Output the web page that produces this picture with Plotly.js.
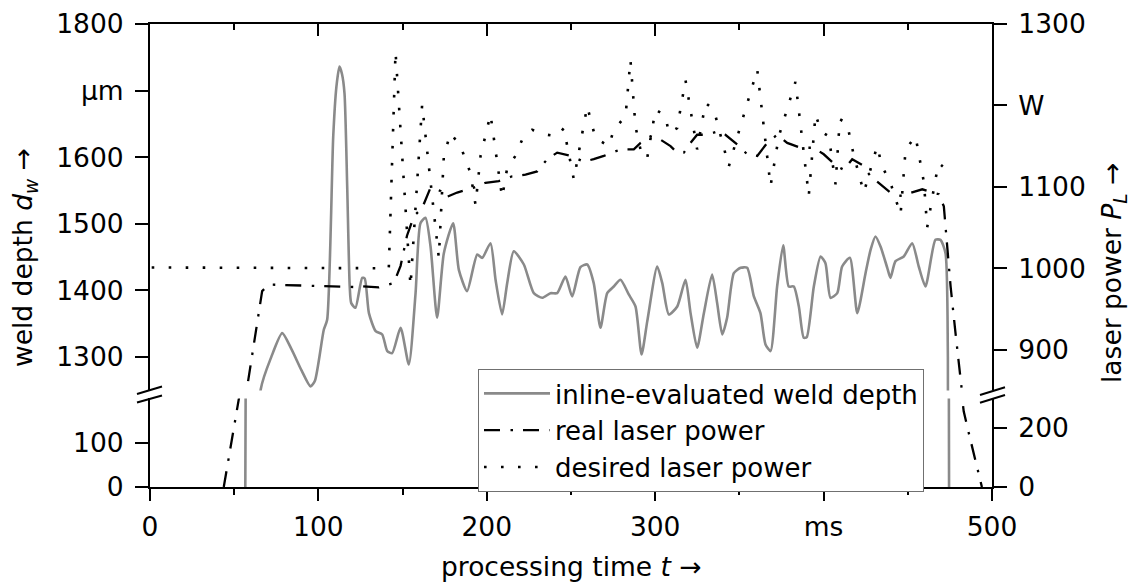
<!DOCTYPE html>
<html><head><meta charset="utf-8">
<script src="https://cdn.plot.ly/plotly-3.0.1.min.js"></script>
<style>html,body{margin:0;padding:0;background:#fff}</style>
</head><body><div id="chart" style="width:1132px;height:583px"></div>
<script>
// ---- data ----
const depthTime = [56.6,56.8,65.8,72,78.5,84,90,95.3,98,103.2,105.2,108.8,110.7,112.5,114,115.5,117.1,118.6,119.5,122,126,127.5,130,134,137.9,140.9,143.8,148.8,153.7,157.7,160.6,163.6,166.6,170.5,174.5,180,183.4,188.3,194.3,197.3,202.2,205.2,209.1,212.1,216,222,227.9,232.9,237.8,241.8,246.7,250.7,255.6,259.6,263.5,267.5,271.5,275.4,279.4,284.3,288.3,291.9,295.3,301.2,304.2,308.1,313.1,318,321,324.9,328.9,333.8,336.8,339.8,342.7,346.7,350.7,354.6,358.6,362.5,365.5,368.5,372.4,376,379.3,382.3,385.3,388.2,390,394.2,398.2,401.1,404.1,408.1,411,415.6,420,424.9,427.9,430.8,433.8,437.8,439.7,442.7,447.6,452.6,456.5,460.5,466.4,469.4,472.4,473.8,474.5];
const depthValue = [0,210,1252,1300,1336,1312,1280,1256,1265,1341,1356,1631,1706,1736,1725,1696,1556,1406,1381,1374,1419,1418,1366,1339,1334,1309,1306,1344,1289,1396,1501,1509,1466,1359,1456,1501,1431,1399,1454,1449,1471,1416,1364,1411,1459,1439,1396,1389,1396,1396,1421,1391,1435,1439,1411,1344,1396,1406,1416,1394,1376,1304,1354,1436,1411,1364,1376,1416,1366,1314,1366,1424,1381,1334,1359,1426,1434,1434,1391,1366,1319,1309,1406,1468,1406,1406,1376,1329,1330,1406,1451,1441,1389,1396,1436,1449,1366,1426,1461,1481,1466,1434,1419,1444,1451,1471,1436,1406,1476,1476,1456,1300,0];

const realTime = [43.8,52.8,57.4,66.6,70.5,90,110,121,125,135.9,144.8,148.8,152.6,156.7,161.6,166.6,172.5,175.5,182.4,192.3,199.2,207.1,215.1,223,229.9,235.9,241.8,249.7,257.6,263.5,269.5,279.4,287.3,291.3,297.2,303.1,309.1,313,317,321,324.9,330.9,336.8,341.7,348.7,354.6,360.6,366.5,372.4,378.4,386.3,394.2,400.1,408.1,412,417,422.9,427.9,433.8,439.7,445.7,451.6,458.6,464.5,468.4,471.4,472.4,473.4,475.4,478.3,481.3,482.1,482.3,483.2,486.2,490.2,494];
const realPower = [0,300,850,972,980,979,978,977,978,976.5,982,1003,1040,1064,1074,1099,1095,1087,1093,1099,1105,1107,1113,1115,1119,1134,1142,1138,1131,1134,1138,1146,1146,1154,1162,1158,1150,1142,1142,1154,1164,1164,1168,1164,1152,1140,1138,1154,1164,1154,1148,1148,1140,1125,1121,1134,1127,1113,1103,1093,1089,1093,1097,1093,1091,1076,1052,1019,978,921,868,850,300,256,183,92,0];

const desiredTime = [1,141.8,145.8,154.7,161.6,171.5,174.5,178.4,184.4,190.3,193.3,196.3,202.2,209.1,212.1,217,221,226.9,235.9,241.8,245.7,251.7,259.6,264.5,272.4,275.4,282.4,285.3,288.3,292.3,295.3,300.2,306.1,308.1,313,318,324.9,329.9,334.8,343.7,349.7,360.6,368.5,373.4,383.3,391.2,395.2,398.5,403.1,407.1,409.6,413.9,418,423.9,431.8,434.8,439.7,445.7,448.7,454.6,459.6,461.5,466.4,468.4,470.8];
const desiredPower = [1001,1000,1266,978,1201,1013,1138,1166,1150,1117,1078,1138,1189,1087,1123,1138,1158,1170,1164,1162,1172,1109,1199,1160,1150,1170,1187,1256,1174,1136,1136,1195,1187,1166,1172,1231,1146,1203,1195,1125,1168,1244,1101,1162,1229,1089,1189,1168,1162,1103,1183,1178,1138,1093,1150,1125,1105,1066,1146,1162,1105,1050,1109,1129,1125];

const seriesNames = ['inline-evaluated weld depth','real laser power','desired laser power'];

const xTickVals = [0,100,200,300,400,500];
const xTickText = ['0','100','200','300','ms','500'];
const xMinorVals = [50,150,250,350,450];
const depthUpperTicks = [1300,1400,1500,1600,1700,1800];
const depthUpperText = ['1300','1400','1500','1600','µm','1800'];
const depthLowerTicks = [0,100];
const depthLowerText = ['0','100'];
const powerUpperTicks = [900,1000,1100,1200,1300];
const powerUpperText = ['900','1000','1100','W','1300'];
const powerLowerTicks = [0,200];
const powerLowerText = ['0','200'];

// ---- styling ----
const W = 1132, H = 583, ML = 150, MR = 140, MT = 24, MB = 96;
const PW = W - ML - MR, PH = H - MT - MB;
const px2x = p => (p - ML) / PW;
const py2y = p => (H - MB - p) / PH;
const FS = 26.5;
const LFS = 26;
const gray = '#8a8a8a';
const realDash = '16px,10.5px,2.5px,10px';
const desiredDash = '2.6px,14.4px';
const graySmooth = 0.6;

const axBase = {showline:true, linecolor:'#000', linewidth:2, showgrid:false, zeroline:false,
  ticks:'outside', tickcolor:'#000', tickwidth:2, tickfont:{size:FS, color:'#000'}, tickmode:'array'};

const traces = [
  {x:depthTime, y:depthValue, xaxis:'x2', yaxis:'y', type:'scatter', mode:'lines', name:seriesNames[0],
   line:{color:gray, width:2.6, shape:'spline', smoothing:graySmooth}},
  {x:realTime, y:realPower, xaxis:'x2', yaxis:'y2', type:'scatter', mode:'lines', name:seriesNames[1],
   line:{color:'#000', width:2.3, dash:realDash}},
  {x:desiredTime, y:desiredPower, xaxis:'x2', yaxis:'y2', type:'scatter', mode:'lines', name:seriesNames[2],
   line:{color:'#000', width:2.6, dash:desiredDash}},
  {x:depthTime, y:depthValue, xaxis:'x', yaxis:'y3', type:'scatter', mode:'lines', showlegend:false,
   line:{color:gray, width:2.6}},
  {x:realTime, y:realPower, xaxis:'x', yaxis:'y4', type:'scatter', mode:'lines', showlegend:false,
   line:{color:'#000', width:2.3, dash:realDash}},
  {x:desiredTime, y:desiredPower, xaxis:'x', yaxis:'y4', type:'scatter', mode:'lines', showlegend:false,
   line:{color:'#000', width:2.6, dash:desiredDash}}
];

const upperBottom = 0.2086, lowerTop = 0.1914;

const breakLines = [
  [137,394,162,386.5],[137,402.5,162,395.5],
  [980,395,1005,387.3],[980,402.7,1005,395]
].map(s => ({type:'line', xref:'paper', yref:'paper', x0:px2x(s[0]), y0:py2y(s[1]), x1:px2x(s[2]), y1:py2y(s[3]),
  line:{color:'#000', width:2}}));

const layout = {
  width:W, height:H, margin:{l:ML, r:MR, t:MT, b:MB, pad:0},
  paper_bgcolor:'#fff', plot_bgcolor:'rgba(0,0,0,0)',
  font:{family:'DejaVu Sans', size:FS, color:'#000'},
  showlegend:true,
  xaxis:Object.assign({}, axBase, {domain:[0,1], range:[0,500], anchor:'y3', side:'bottom',
    tickvals:xTickVals, ticktext:xTickText, ticklen:12, ticklabelstandoff:3,
    minor:{tickvals:xMinorVals, ticks:'outside', ticklen:6, tickwidth:2, tickcolor:'#000'}}),
  xaxis2:Object.assign({}, axBase, {domain:[0,1], range:[0,500], anchor:'y', side:'top', matches:'x',
    tickvals:xTickVals, ticks:'inside', ticklen:12, showticklabels:false,
    minor:{tickvals:xMinorVals, ticks:'inside', ticklen:6, tickwidth:2, tickcolor:'#000'}}),
  yaxis:Object.assign({}, axBase, {domain:[upperBottom,1], range:[1250,1800], anchor:'x2', side:'left',
    tickvals:depthUpperTicks, ticktext:depthUpperText, ticklen:13, ticklabelstandoff:6}),
  yaxis2:Object.assign({}, axBase, {overlaying:'y', range:[850,1300], anchor:'x2', side:'right',
    tickvals:powerUpperTicks, ticktext:powerUpperText, ticklen:13, ticklabelstandoff:6}),
  yaxis3:Object.assign({}, axBase, {domain:[0,lowerTop], range:[0,200], anchor:'x', side:'left',
    tickvals:depthLowerTicks, ticktext:depthLowerText, ticklen:13, ticklabelstandoff:6}),
  yaxis4:Object.assign({}, axBase, {overlaying:'y3', range:[0,300], anchor:'x', side:'right',
    tickvals:powerLowerTicks, ticktext:powerLowerText, ticklen:13, ticklabelstandoff:6}),
  legend:{x:px2x(478), xanchor:'left', y:py2y(369), yanchor:'top', bgcolor:'#fff',
    bordercolor:'#707070', borderwidth:1, font:{size:LFS, color:'#000'},
    traceorder:'normal', itemwidth:66},
  shapes:breakLines,
  annotations:[
    {text:'processing time <i>t</i> →', xref:'paper', yref:'paper', x:0.5, y:py2y(566),
     xanchor:'center', yanchor:'middle', showarrow:false, font:{size:FS}},
    {text:'weld depth <i>d</i><sub><i>w</i></sub> →', xref:'paper', yref:'paper', x:px2x(24), y:py2y(258),
     xanchor:'center', yanchor:'middle', showarrow:false, textangle:-90, font:{size:FS}},
    {text:'laser power <i>P</i><sub><i>L</i></sub> →', xref:'paper', yref:'paper', x:px2x(1113), y:py2y(273),
     xanchor:'center', yanchor:'middle', showarrow:false, textangle:-90, font:{size:FS}}
  ]
};

Plotly.newPlot('chart', traces, layout, {displayModeBar:false, staticPlot:true});
</script></body></html>
